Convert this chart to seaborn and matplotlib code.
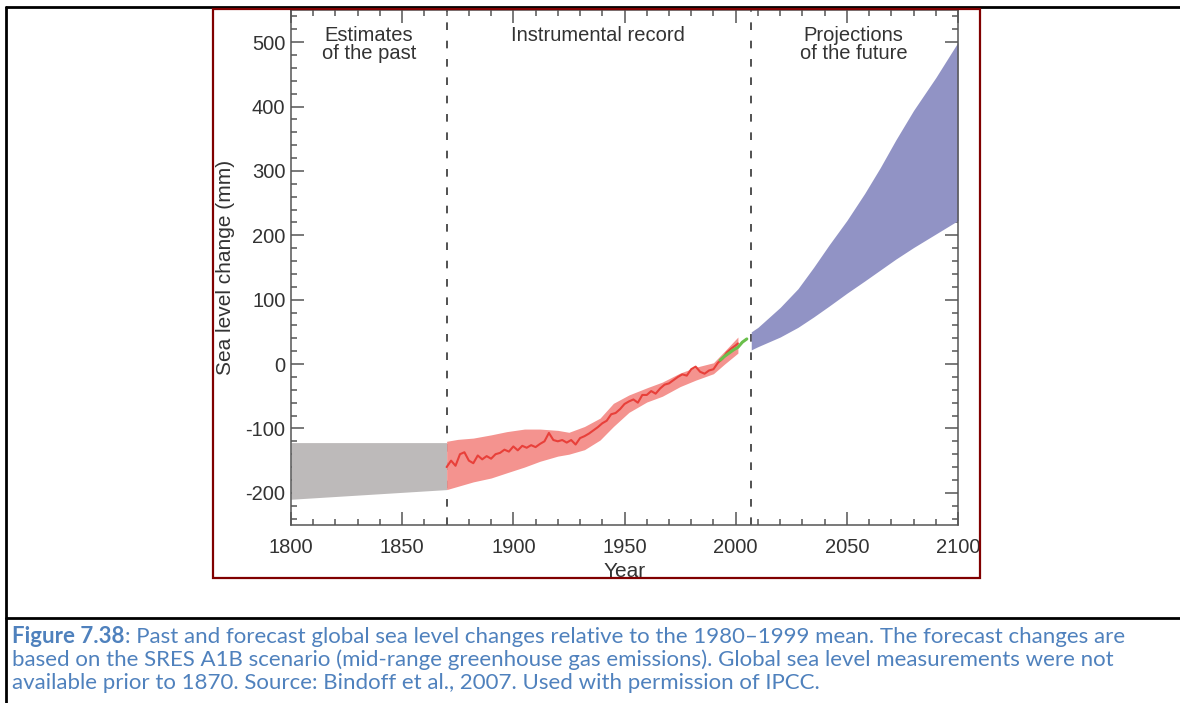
import matplotlib
matplotlib.use("Agg")
import matplotlib.pyplot as plt
from matplotlib.patches import Rectangle
from matplotlib.lines import Line2D
from matplotlib.ticker import MultipleLocator
import seaborn as sns

# Estimates of the past (grey band)
past_years = [1800, 1870]
past_upper = [-122, -122]
past_lower = [-210, -195]

# Instrumental record uncertainty band (red shading)
band_years = [1870, 1875, 1882, 1890, 1897, 1905, 1912, 1920, 1925, 1932,
              1939, 1945, 1952, 1960, 1967, 1975, 1982, 1990, 1995, 2001]
band_upper = [-120, -117, -115, -110, -105, -101, -101, -103, -106, -97,
              -84, -61, -48, -37, -28, -14, -5, 2, 20, 42]
band_lower = [-195, -190, -183, -177, -169, -160, -151, -143, -140, -133,
              -118, -97, -75, -59, -50, -35, -25, -15, 0, 17]

# Instrumental record (tide gauges, red line)
record_years = [1870, 1872, 1874, 1876, 1878, 1880, 1882, 1884, 1886, 1888,
                1890, 1892, 1894, 1896, 1898, 1900, 1902, 1904, 1906, 1908,
                1910, 1912, 1914, 1916, 1918, 1920, 1922, 1924, 1926, 1928,
                1930, 1932, 1934, 1936, 1938, 1940, 1942, 1944, 1946, 1948,
                1950, 1952, 1954, 1956, 1958, 1960, 1962, 1964, 1966, 1968,
                1970, 1972, 1974, 1976, 1978, 1980, 1982, 1984, 1986, 1988,
                1990, 1992, 1994, 1996, 1998, 2000, 2001]
record_level = [-160, -150, -158, -140, -137, -150, -154, -142, -148, -143,
                -147, -140, -138, -133, -136, -128, -134, -127, -130, -126,
                -129, -124, -120, -107, -118, -120, -118, -122, -118, -125,
                -115, -112, -108, -103, -98, -92, -88, -78, -76, -70,
                -62, -58, -55, -60, -48, -48, -42, -46, -38, -32,
                -30, -25, -20, -16, -18, -8, -4, -12, -15, -10,
                -8, 2, 8, 18, 24, 29, 32]

# Satellite altimetry (green line)
sat_years = [1993, 1995, 1997, 1999, 2001, 2003, 2005]
sat_level = [6, 12, 17, 22, 26, 34, 39]

# Projections of the future (blue band)
proj_years = [2007, 2010, 2020, 2028, 2035, 2042, 2050, 2058, 2065, 2072, 2080, 2090, 2100]
proj_upper = [50, 57, 88, 117, 150, 185, 223, 265, 305, 348, 394, 445, 500]
proj_lower = [22, 27, 42, 57, 73, 90, 110, 129, 146, 163, 181, 202, 223]

caption_bold = "Figure 7.38"
caption_lines = [
    ": Past and forecast global sea level changes relative to the 1980\u20131999 mean. The forecast changes are",
    "based on the SRES A1B scenario (mid-range greenhouse gas emissions). Global sea level measurements were not",
    "available prior to 1870. Source: Bindoff et al., 2007. Used with permission of IPCC.",
]

sns.set_style("ticks")
plt.rcParams['font.family'] = ['Liberation Sans', 'DejaVu Sans']
plt.rcParams['axes.unicode_minus'] = False

fig = plt.figure(figsize=(11.8, 7.03), dpi=100)
ax = fig.add_axes([0.2466, 0.2532, 0.5653, 0.7326])

# Bands
ax.fill_between(past_years, past_lower, past_upper, color='#bdbaba', lw=0)
ax.fill_between(band_years, band_lower, band_upper, color='#f4938f', lw=0)
ax.fill_between(proj_years, proj_lower, proj_upper, color='#9193c5', lw=0)

# Lines
sns.lineplot(x=record_years, y=record_level, color='#e8403a', linewidth=1.5, ax=ax)
sns.lineplot(x=sat_years, y=sat_level, color='#6abf4b', linewidth=2.2, ax=ax)

# Period separators
for yr in [1870, 2007]:
    ax.axvline(yr, color='#222222', lw=1.1, ls=(0, (5, 7)), zorder=0.5)

ax.text(1835, 496, "Estimates\nof the past", ha='center', va='center',
        fontsize=14.5, color='#333333', linespacing=0.9)
ax.text(1938, 510, "Instrumental record", ha='center', va='center',
        fontsize=14.5, color='#333333')
ax.text(2053, 496, "Projections\nof the future", ha='center', va='center',
        fontsize=14.5, color='#333333', linespacing=0.9)

ax.set_xlim(1800, 2100)
ax.set_ylim(-250, 550)
ax.xaxis.set_major_locator(MultipleLocator(50))
ax.xaxis.set_minor_locator(MultipleLocator(10))
ax.yaxis.set_major_locator(MultipleLocator(100))
ax.yaxis.set_minor_locator(MultipleLocator(20))
ax.set_yticks([-200, -100, 0, 100, 200, 300, 400, 500])

ax.tick_params(which='both', direction='in', top=True, right=True,
               color='#555555', width=1.1, labelsize=14.5, labelcolor='#333333')
ax.tick_params(which='major', length=9.5)
ax.tick_params(which='minor', length=4.5)
ax.tick_params(axis='x', pad=9)
ax.tick_params(axis='y', pad=4)
for sp in ax.spines.values():
    sp.set_color('#555555')
    sp.set_linewidth(1.1)

ax.set_xlabel('Year', fontsize=15, color='#333333')
ax.set_ylabel('Sea level change (mm)', fontsize=15, color='#333333')
ax.xaxis.set_label_coords(0.5, -0.072)
ax.yaxis.set_label_coords(-0.084, 0.5)

# Dark red frame around the chart
fig.add_artist(Rectangle((0.1805, 0.1778), 0.65, 0.8094, transform=fig.transFigure,
                         fill=False, edgecolor='#800000', lw=1.6, zorder=5))

# Table cell lines
for xs, ys in [([0.0051, 1.0], [0.990, 0.990]),
               ([0.0051, 0.0051], [0.0, 0.990]),
               ([0.0051, 1.0], [0.1209, 0.1209])]:
    fig.add_artist(Line2D(xs, ys, transform=fig.transFigure, color='black', lw=2.0))

# Caption
cap_color = '#4f81bd'
cap_font = ['Lato', 'DejaVu Sans']
cap_size = 16
base_y = [1 - 643 / 703, 1 - 666 / 703, 1 - 689 / 703]
bold = fig.text(0.0102, base_y[0], caption_bold, fontsize=cap_size, fontweight='bold',
                color=cap_color, family=cap_font, va='baseline')
renderer = fig.canvas.get_renderer()
bb = bold.get_window_extent(renderer).transformed(fig.transFigure.inverted())
fig.text(bb.x1, base_y[0], caption_lines[0], fontsize=cap_size, color=cap_color,
         family=cap_font, va='baseline')
for line, y in zip(caption_lines[1:], base_y[1:]):
    fig.text(0.0102, y, line, fontsize=cap_size, color=cap_color, family=cap_font, va='baseline')

fig.savefig('out.png', dpi=100)
